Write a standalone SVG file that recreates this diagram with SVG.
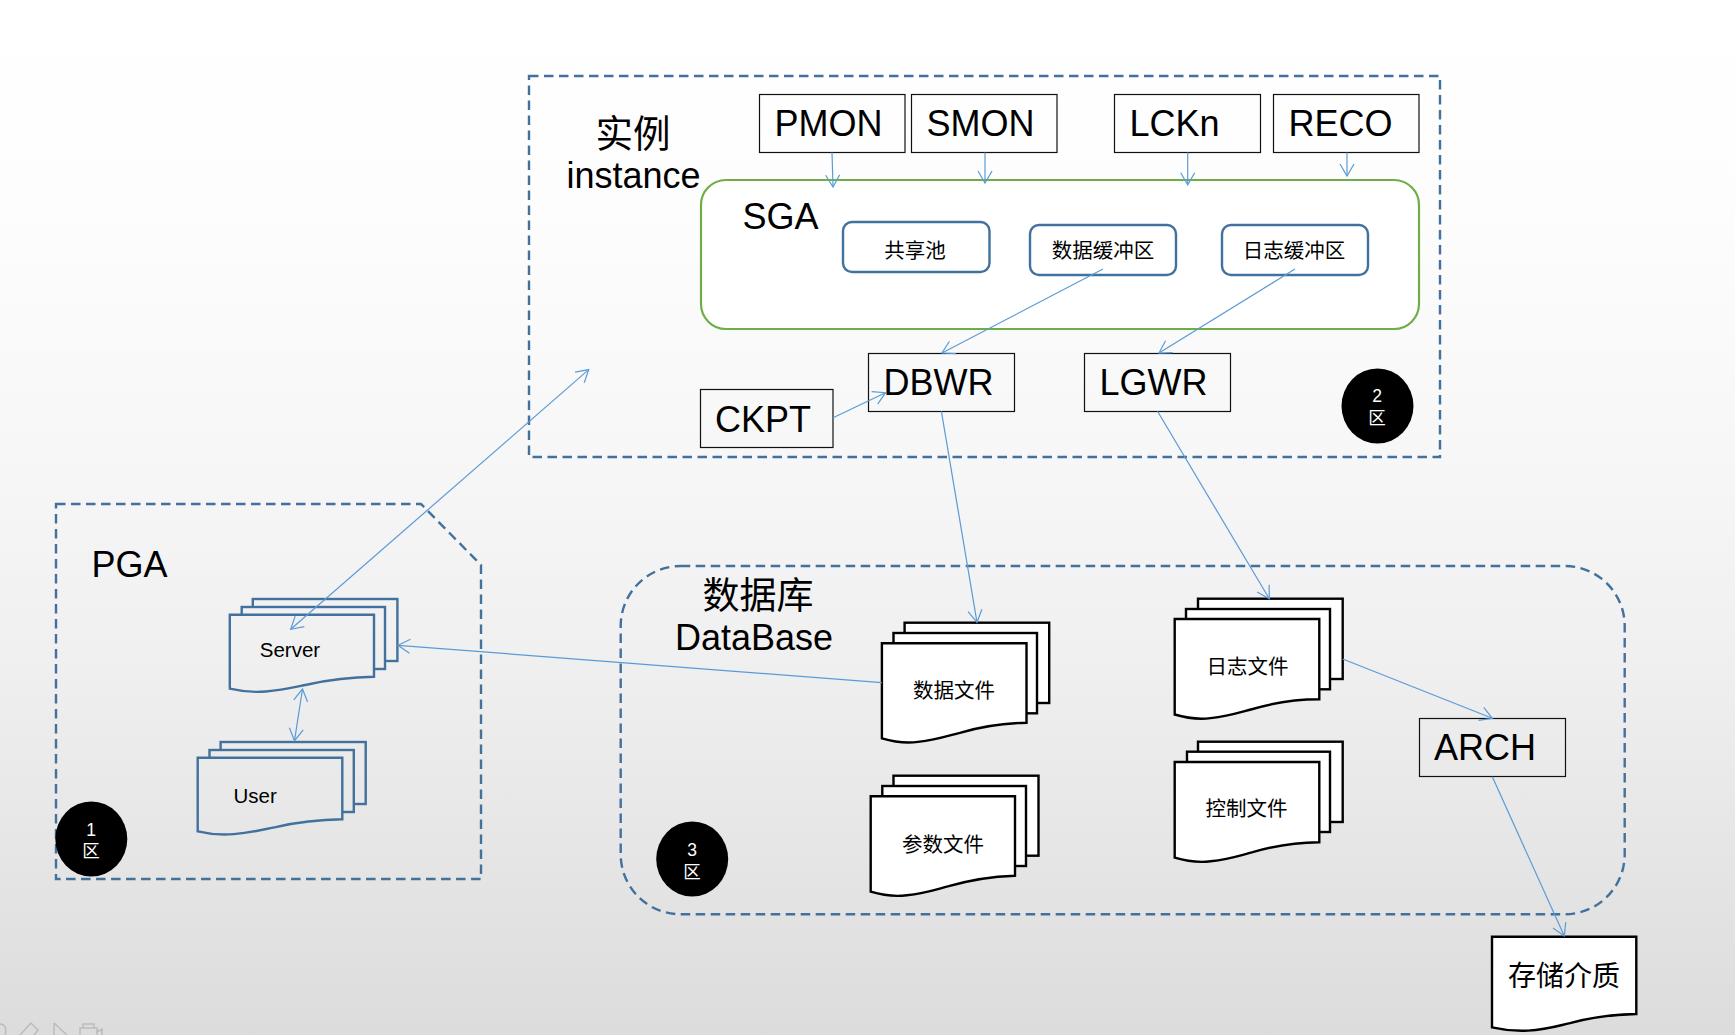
<svg xmlns="http://www.w3.org/2000/svg" width="1735" height="1035" viewBox="0 0 1735 1035">
<style>
text{font-family:"Liberation Sans","Noto Sans CJK SC",sans-serif;fill:#000}
.big{font-size:36px}
.cjk{font-family:"Noto Sans CJK SC","Liberation Sans",sans-serif}
.s20{font-size:20.500px}
.c{text-anchor:middle}
.w{fill:#fff;font-size:17.500px;text-anchor:middle}
.box{fill:none;stroke:#111;stroke-width:1.2}
.dash{fill:none;stroke:#41719c;stroke-width:2.400;stroke-dasharray:9.500 5.500}
.pool{fill:#fff;stroke:#41719c;stroke-width:2.400}
.bdoc{fill:url(#bg);stroke:#41719c;stroke-width:2.400}
.kdoc{fill:#fff;stroke:#000;stroke-width:2.400}
.link{fill:none;stroke:#5b9bd5;stroke-width:1.2;marker-end:url(#v)}
.two{marker-start:url(#v)}
</style>
<defs>
<linearGradient id="bg" gradientUnits="userSpaceOnUse" x1="0" y1="0" x2="0" y2="1035">
<stop offset="0" stop-color="#ffffff"/><stop offset=".2" stop-color="#fdfdfd"/><stop offset=".435" stop-color="#f7f7f7"/><stop offset=".63" stop-color="#f0f0f0"/><stop offset="1" stop-color="#dcdcdc"/>
</linearGradient>
<marker id="v" markerUnits="userSpaceOnUse" markerWidth="18" markerHeight="16" viewBox="0 0 18 16" refX="16" refY="8" orient="auto-start-reverse">
<path d="M4,1 L16,8 L4,15" fill="none" stroke="#5b9bd5" stroke-width="1.2"/>
</marker>
</defs>
<rect id="background" width="1735" height="1035" fill="url(#bg)"/>
<g id="slide-controls" fill="none" stroke="#b8bdbb" stroke-width="1.500">
<path d="M0,1024 C5,1024 7,1029 5,1035"/>
<path d="M20,1035 L31,1023 L38,1030 L34,1035"/>
<path d="M54,1023 V1035 M54,1023 L67,1035"/>
<path d="M80,1035 V1028 H97 V1035 M83,1028 V1024 H94 V1028 M97,1032 L102,1029 V1035"/>
</g>
<g id="instance-frame"><rect class="dash" x="529" y="76" width="911" height="381"/><text class="big cjk" x="595.500" y="147" style="font-size:37.500px">实例</text><text class="big" x="566.500" y="188">instance</text></g>
<g id="sga"><rect x="701" y="180" width="718" height="149" rx="25" fill="#fff" stroke="#70ad47" stroke-width="2.200"/><text class="big" x="742.500" y="228.500">SGA</text></g>
<g id="pmon"><rect class="box" x="759.500" y="94.500" width="145.500" height="58"/><text class="big" x="774.500" y="136">PMON</text></g>
<g id="smon"><rect class="box" x="911.500" y="94.500" width="145.500" height="58"/><text class="big" x="926.500" y="136">SMON</text></g>
<g id="lckn"><rect class="box" x="1114.500" y="94.500" width="146" height="58"/><text class="big" x="1129.500" y="136">LCKn</text></g>
<g id="reco"><rect class="box" x="1273.500" y="94.500" width="145.500" height="58"/><text class="big" x="1288.500" y="136">RECO</text></g>
<g id="shared-pool"><rect class="pool" x="843" y="222" width="146.500" height="50" rx="9"/><text class="cjk s20 c" x="915" y="258">共享池</text></g>
<g id="buffer-cache"><rect class="pool" x="1030" y="225" width="146" height="50" rx="9"/><text class="cjk s20 c" x="1103" y="258">数据缓冲区</text></g>
<g id="log-buffer"><rect class="pool" x="1222" y="225" width="146" height="50" rx="9"/><text class="cjk s20 c" x="1294" y="258">日志缓冲区</text></g>
<g id="dbwr"><rect class="box" x="868.500" y="353.500" width="146" height="58"/><text class="big" x="883.500" y="395">DBWR</text></g>
<g id="lgwr"><rect class="box" x="1084.500" y="353.500" width="146" height="58"/><text class="big" x="1099.500" y="395">LGWR</text></g>
<g id="ckpt"><rect class="box" x="700.500" y="389.500" width="132.500" height="58"/><text class="big" x="715" y="431.500">CKPT</text></g>
<g id="badge-2"><ellipse cx="1377.500" cy="406" rx="36" ry="37.500"/><text class="w" x="1377" y="401.500">2</text><text class="w cjk" x="1377" y="424">区</text></g>
<g id="pga-frame"><path class="dash" d="M56,504 H421 L481,565 V879 H56 Z"/><text class="big" x="91.500" y="577">PGA</text></g>
<g id="server">
<rect class="bdoc" x="252.800" y="599" width="144.600" height="62"/><rect class="bdoc" x="241.700" y="607" width="143.300" height="62"/>
<path class="bdoc" d="M229.800,688.700 c12,2.800 25,3.800 36,2.800 c19,-1.500 29,-4.500 42,-7 c22,-5 42,-7.500 66.200,-7.800 V614.700 H229.800 Z"/>
<text class="s20 c" x="290" y="656.500">Server</text></g>
<g id="user">
<rect class="bdoc" x="220.600" y="742" width="145.100" height="62"/><rect class="bdoc" x="209.500" y="750" width="144.300" height="62"/>
<path class="bdoc" d="M197.700,831.300 c12,2.800 25,3.800 36,2.800 c19,-1.500 29,-4.500 42,-7 c22,-5 42,-7.500 66.600,-7.800 V757.700 H197.700 Z"/>
<text class="s20" x="233.500" y="802.500">User</text></g>
<g id="badge-1"><ellipse cx="91.300" cy="839" rx="36" ry="37.500"/><text class="w" x="91" y="835.500">1</text><text class="w cjk" x="91" y="857">区</text></g>
<g id="database-frame"><rect class="dash" x="620.700" y="566" width="1004" height="348.300" rx="60"/><text class="big cjk c" x="758" y="609" style="font-size:37px">数据库</text><text class="big" x="675" y="650">DataBase</text></g>
<g id="data-files">
<rect class="kdoc" x="904.600" y="622.700" width="144.600" height="80.300"/><rect class="kdoc" x="893.500" y="633" width="143.500" height="80.300"/>
<path class="kdoc" d="M881.900,738.300 c12,3.600 25,5 36,3.600 c19,-2 29,-5.800 42,-9.100 c22,-6.500 42,-9.700 66.600,-10.100 V643.300 H881.900 Z"/>
<text class="cjk s20 c" x="954" y="697.500">数据文件</text></g>
<g id="param-files">
<rect class="kdoc" x="893.500" y="775.700" width="145" height="80"/><rect class="kdoc" x="882.300" y="786" width="143.700" height="80"/>
<path class="kdoc" d="M870.700,891.700 c12,3.600 25,5 36,3.600 c19,-2 29,-5.800 42,-9.100 c22,-6.500 42,-9.700 66.300,-10.500 V796.300 H870.700 Z"/>
<text class="cjk s20 c" x="943" y="851.500">参数文件</text></g>
<g id="log-files">
<rect class="kdoc" x="1198" y="598.700" width="144.700" height="80.300"/><rect class="kdoc" x="1186" y="609" width="144" height="80.300"/>
<path class="kdoc" d="M1174.700,714.500 c12,3.600 25,5 36,3.600 c19,-2 29,-5.800 42,-9.100 c22,-6.500 42,-9.700 66.600,-9.700 V619 H1174.700 Z"/>
<text class="cjk s20 c" x="1247.500" y="673.500">日志文件</text></g>
<g id="control-files">
<rect class="kdoc" x="1198" y="741.700" width="144.700" height="80.300"/><rect class="kdoc" x="1187" y="751.700" width="143" height="80.300"/>
<path class="kdoc" d="M1174.700,857.700 c12,3.600 25,5 36,3.600 c19,-2 29,-5.800 42,-9.100 c22,-6.500 42,-9.700 66.600,-9.900 V762 H1174.700 Z"/>
<text class="cjk s20 c" x="1246.500" y="816">控制文件</text></g>
<g id="badge-3"><ellipse cx="692.200" cy="859" rx="36" ry="37.500"/><text class="w" x="692" y="855.500">3</text><text class="w cjk" x="692" y="877.500">区</text></g>
<g id="arch"><rect class="box" x="1419.500" y="718.500" width="146" height="58"/><text class="big" x="1434" y="760">ARCH</text></g>
<g id="storage">
<path class="kdoc" d="M1492,1027.300 c12,2.800 25,3.800 36,3.300 c19,-1 29,-4.500 42,-7.500 c22,-6 42,-8.600 66.300,-9.100 V936.700 H1492 Z"/>
<text class="cjk c" font-size="28" x="1564" y="986">存储介质</text></g>
<g id="connectors">
<path class="link" d="M832,152.500 L833,187"/>
<path class="link" d="M985,152.500 V183"/>
<path class="link" d="M1187.700,152.500 V184.700"/>
<path class="link" d="M1347,152.500 V176"/>
<path class="link" d="M1103,269 L942,353"/>
<path class="link" d="M1295,269 L1159,353"/>
<path class="link" d="M833,417.700 L885.500,392.700"/>
<path class="link two" d="M588.700,369.600 L290.700,629.300"/>
<path class="link two" d="M302.500,689 L294.500,740.700"/>
<path class="link" d="M881.900,682.700 L398,645.300"/>
<path class="link" d="M941.400,411.300 L977,622.300"/>
<path class="link" d="M1157.500,411.300 L1269.300,598.700"/>
<path class="link" d="M1342.700,659 L1492.300,718.300"/>
<path class="link" d="M1492.300,776.700 L1564.300,936"/>
</g>
</svg>
